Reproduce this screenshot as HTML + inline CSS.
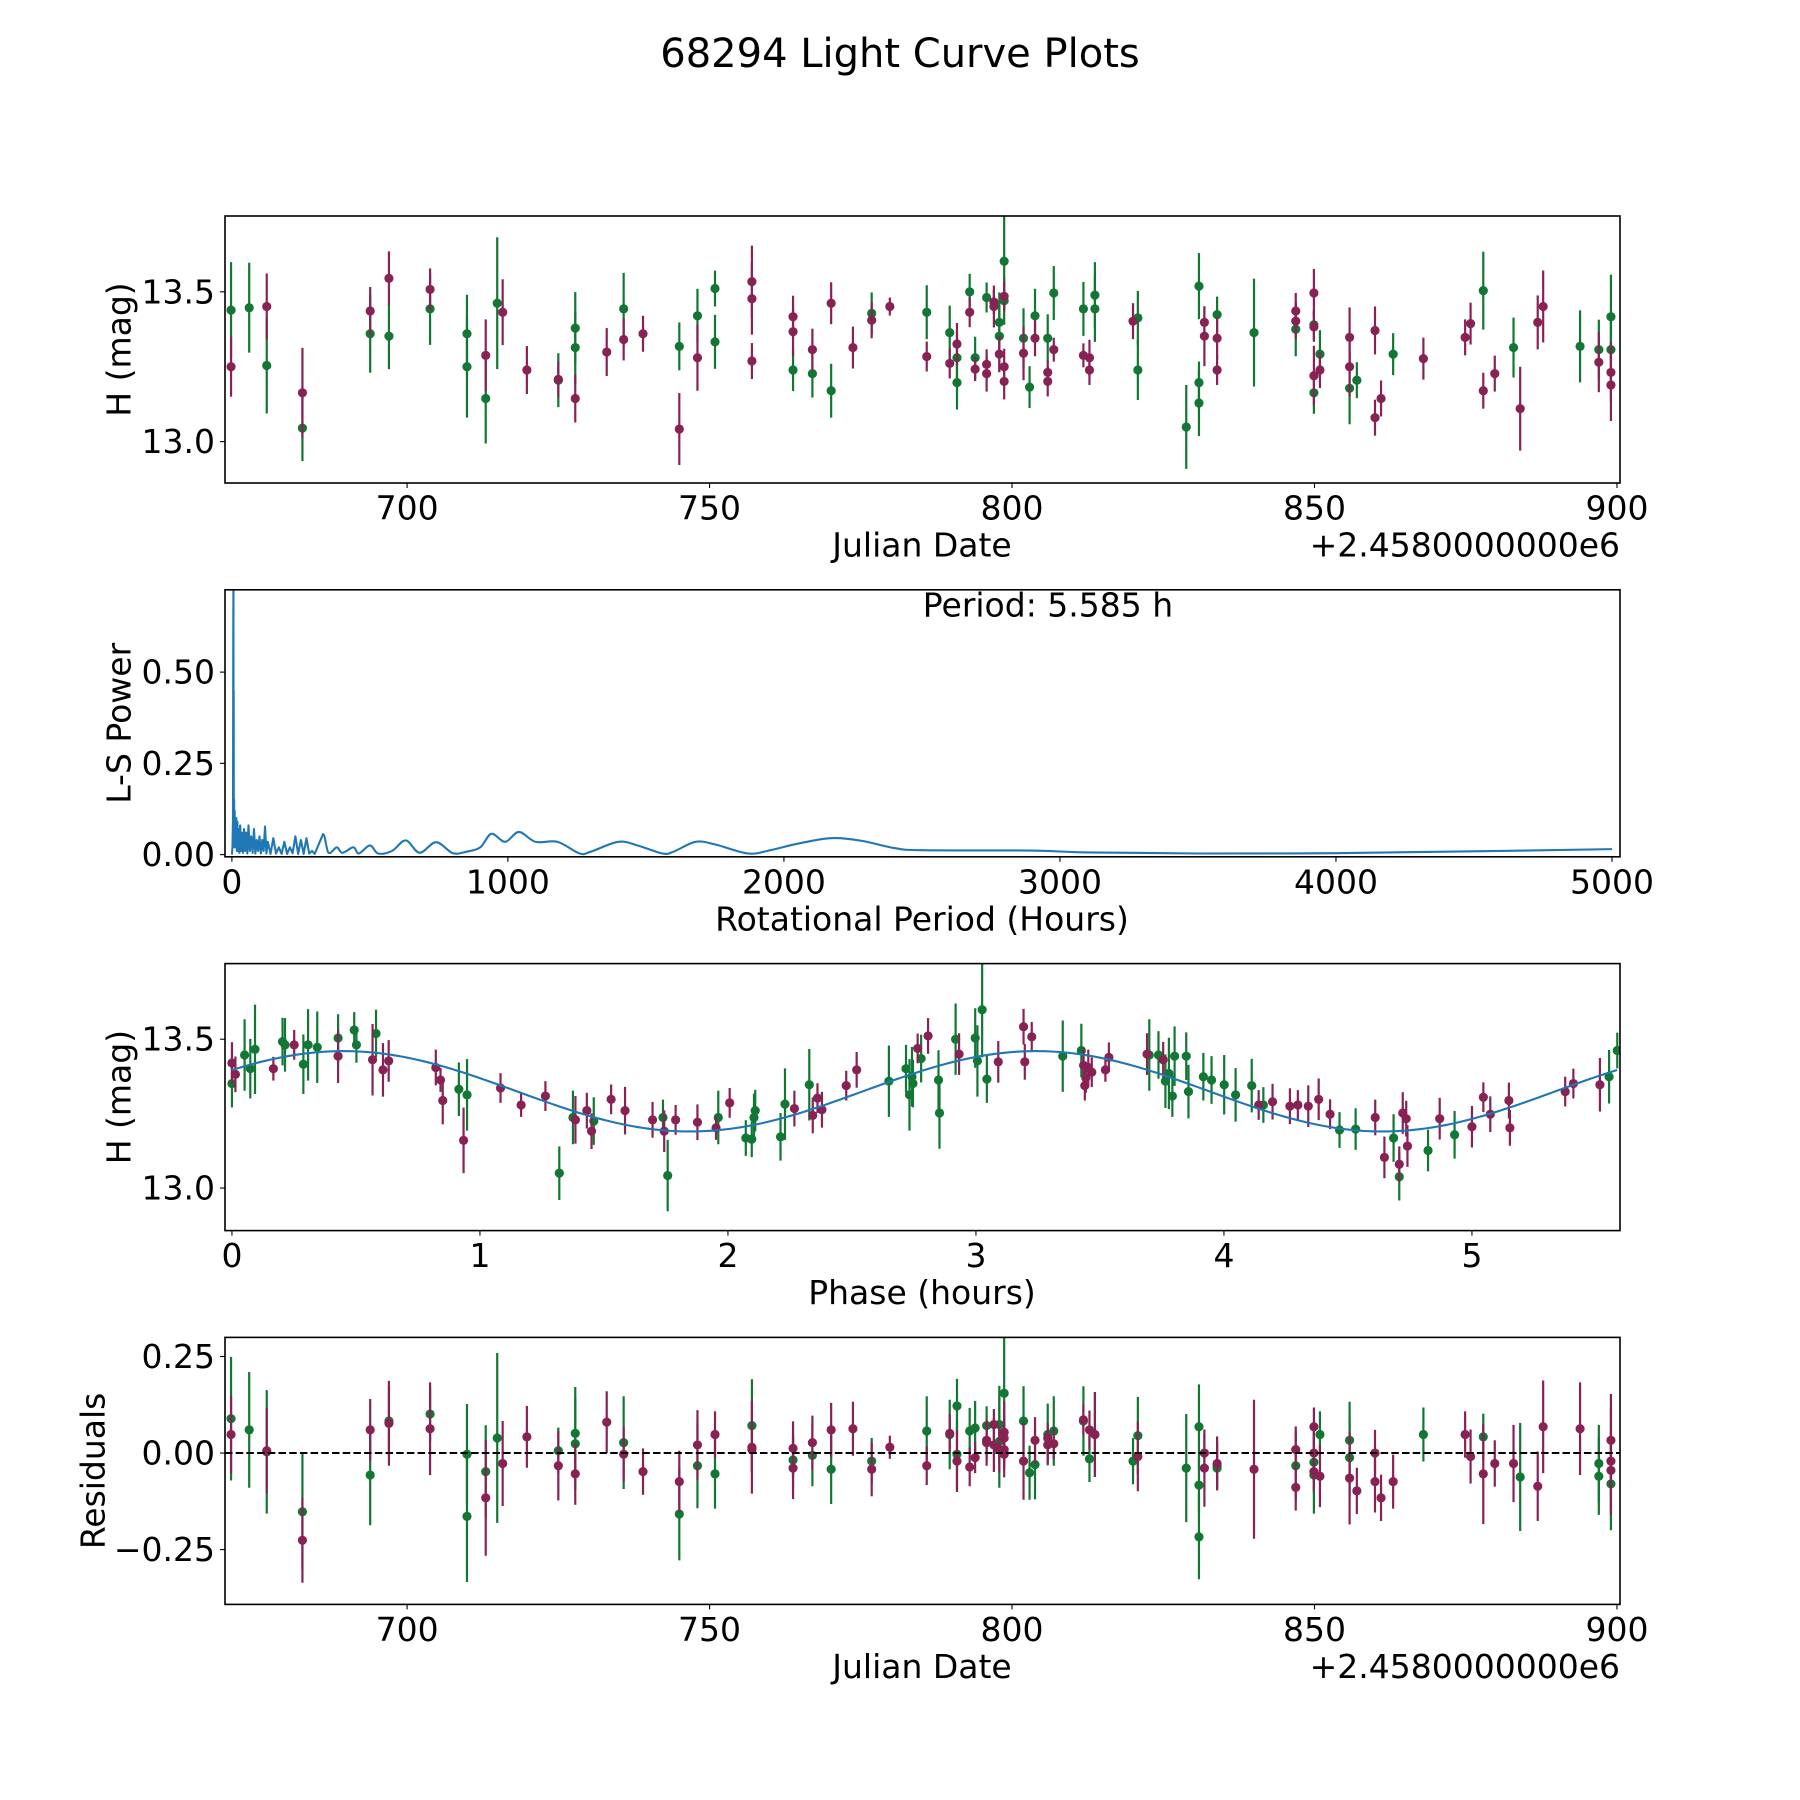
<!DOCTYPE html>
<html><head><meta charset="utf-8"><title>68294 Light Curve Plots</title>
<style>
html,body{margin:0;padding:0;background:#fff;}
svg{display:block;font-family:"DejaVu Sans","Liberation Sans",sans-serif;}
</style></head>
<body>
<svg id="fig" width="1800" height="1800" viewBox="0 0 1800 1800" xmlns="http://www.w3.org/2000/svg">
<rect x="0" y="0" width="1800" height="1800" fill="#fff"/>
<text x="900" y="54" font-size="40" text-anchor="middle" dominant-baseline="central">68294 Light Curve Plots</text>
</svg>
<script>
// ---------- data: light curve (top) ----------
const topDate = [670.9,670.9,673.9,676.8,676.8,682.7,682.7,693.9,693.9,697.0,697.0,703.8,703.8,709.9,709.9,713.0,713.0,714.9,715.8,719.8,
725.0,725.0,727.8,727.8,727.8,733.0,735.8,735.8,739.0,745.0,745.0,748.0,748.0,750.9,750.9,757.0,757.0,757.0,763.8,763.8,
763.8,767.0,767.0,770.1,770.1,773.7,776.8,776.8,779.8,785.9,785.9,789.7,789.7,790.9,790.9,790.9,793.0,793.0,793.9,793.9,
795.8,795.8,795.8,797.0,797.0,797.9,797.9,797.9,798.7,798.7,798.7,798.7,798.7,801.9,801.9,802.9,803.8,803.8,805.9,805.9,
805.9,806.9,806.9,811.8,811.8,812.8,812.8,813.7,813.7,820.0,820.8,820.8,828.8,830.9,830.9,830.9,831.8,831.8,833.9,833.9,
833.9,840.0,846.9,846.9,846.9,849.9,849.9,849.9,849.9,849.9,850.9,850.9,855.8,855.8,855.8,857.0,860.0,860.0,861.0,863.0,
868.0,874.9,875.8,877.9,877.9,879.8,882.9,884.0,886.9,887.8,893.9,897.0,897.0,899.0,899.0,899.0,899.0];
const topBand = "gpgpgpgpgpgpgggpggpp"+"pgggppgppgpgpggppppp"+"gpgpgppgpgpgppgggppg"+"gppppggpggppppgggppp"+"ggpgpppggpggggggppgpg".slice(0,20)+"pgppgpgppggpppggpppg"+"pppgppgpppggpggpp";
const topMag = [13.439,13.250,13.447,13.451,13.254,13.163,13.045,13.436,13.360,13.545,13.352,13.508,13.443,13.360,13.250,13.288,13.144,13.462,13.432,13.239,
13.208,13.205,13.379,13.314,13.144,13.299,13.443,13.341,13.360,13.318,13.042,13.420,13.280,13.511,13.333,13.534,13.477,13.269,13.417,13.367,
13.239,13.307,13.227,13.462,13.170,13.314,13.405,13.428,13.451,13.432,13.284,13.364,13.261,13.326,13.197,13.280,13.500,13.432,13.242,13.280,
13.481,13.258,13.227,13.466,13.451,13.398,13.352,13.292,13.602,13.470,13.485,13.250,13.201,13.295,13.345,13.182,13.420,13.345,13.231,13.201,
13.345,13.496,13.307,13.443,13.288,13.280,13.239,13.489,13.443,13.402,13.413,13.239,13.049,13.519,13.129,13.197,13.398,13.352,13.424,13.345,
13.239,13.364,13.436,13.402,13.375,13.496,13.390,13.383,13.220,13.163,13.292,13.239,13.348,13.250,13.178,13.205,13.371,13.080,13.144,13.292,
13.277,13.348,13.394,13.504,13.170,13.227,13.314,13.110,13.398,13.451,13.318,13.307,13.265,13.417,13.307,13.231,13.189];
const topErr = [.16,.10,.15,.11,.16,.15,.11,.08,.13,.09,.11,.07,.12,.13,.17,.12,.15,.22,.11,.08,
.06,.09,.12,.12,.08,.08,.12,.07,.06,.08,.12,.09,.11,.06,.09,.12,.12,.06,.07,.08,
.07,.07,.08,.07,.09,.07,.06,.07,.03,.09,.05,.09,.05,.07,.09,.08,.06,.05,.04,.07,
.05,.05,.06,.04,.07,.10,.12,.06,.16,.08,.05,.06,.06,.09,.10,.07,.09,.06,.04,.05,
.08,.09,.04,.09,.04,.06,.05,.11,.11,.06,.09,.10,.14,.11,.11,.07,.05,.10,.06,.07,
.05,.18,.06,.06,.09,.08,.05,.05,.10,.07,.08,.06,.10,.10,.12,.06,.08,.06,.06,.07,
.07,.06,.07,.13,.06,.06,.10,.14,.09,.12,.12,.10,.10,.14,.12,.10,.12];

// ---------- data: residuals (bottom) ----------
const resDate = topDate;
const resBand = "gpgpggppggpgpgggpgpp"+"gpggppgpppgpgpggpppp"+"gpgpgpgppgpgpggpgppg"+"gppppggpgppppgpggppp"+"ggpgpgppggpgggggppgp"+"gpppggppgppgggpppppp"+"gpppgppgpppggpgpp";
const resVal = [.089,.048,.060,.006,.003,-.152,-.226,.060,-.057,.083,.077,.101,.063,-.003,-.164,-.048,-.116,.039,-.027,.042,
.006,-.033,.051,.024,-.054,.080,.027,-.003,-.048,-.074,-.158,.021,-.033,.048,-.054,.071,.015,.009,.012,-.039,
-.018,.027,-.006,.060,-.042,.063,-.021,-.042,.015,.057,-.033,.048,.051,.122,-.003,-.021,.057,-.036,-.012,.065,
.071,.033,.027,.074,.021,.074,.030,.009,.155,.054,.009,-.003,.039,.083,-.021,-.051,-.030,.033,.039,.021,
.048,.057,.024,.083,.086,-.015,.060,.048,.048,-.021,-.009,.045,-.039,-.217,.068,-.083,0,-.039,-.033,-.027,
-.039,-.042,-.089,.009,-.033,-.024,.068,-.048,-.057,0,-.060,.048,-.012,.033,-.065,-.098,-.074,0,-.116,-.074,
.048,.048,-.009,-.054,.042,-.027,-.027,-.062,-.086,.068,.063,-.027,-.060,-.021,-.080,-.045,.033];
const resErr = topErr;

// ---------- data: phased light curve ----------
const phHour = [0,0,.014,.051,.074,.093,.167,.204,.214,.251,.288,.307,.344,.428,.428,.493,.502,.567,.581,.609,
.632,.822,.841,.850,.915,.934,.948,1.083,1.166,1.264,1.320,1.375,1.385,1.431,1.450,1.459,1.529,1.585,1.696,1.738,
1.757,1.743,1.789,1.877,1.952,1.961,2.007,2.072,2.096,2.105,2.110,2.212,2.230,2.268,2.328,2.342,2.361,2.379,2.477,2.519,
2.649,2.718,2.732,2.742,2.746,2.765,2.779,2.807,2.849,2.853,2.918,2.932,2.997,3.006,3.025,3.044,3.090,3.192,3.197,3.225,
3.350,3.425,3.434,3.439,3.443,3.453,3.467,3.522,3.536,3.690,3.699,3.736,3.755,3.764,3.778,3.792,3.801,3.848,3.857,3.917,
3.950,4.001,4.047,4.112,4.140,4.159,4.196,4.266,4.298,4.340,4.382,4.428,4.466,4.531,4.610,4.647,4.684,4.707,4.721,4.707,
4.740,4.735,4.823,4.870,4.930,5.0,5.046,5.074,5.149,5.153,5.376,5.409,5.516,5.553,5.586];
const phMag = [13.420,13.351,13.382,13.447,13.401,13.466,13.401,13.492,13.481,13.481,13.416,13.481,13.473,13.504,13.443,13.531,13.481,13.431,13.519,13.397,
13.427,13.405,13.363,13.294,13.332,13.160,13.313,13.336,13.279,13.309,13.050,13.237,13.229,13.260,13.191,13.225,13.298,13.260,13.229,13.237,
13.042,13.191,13.229,13.221,13.202,13.237,13.286,13.168,13.164,13.237,13.260,13.172,13.282,13.267,13.347,13.244,13.302,13.263,13.344,13.397,
13.359,13.401,13.313,13.374,13.351,13.469,13.435,13.511,13.363,13.252,13.500,13.450,13.504,13.427,13.599,13.366,13.424,13.542,13.424,13.508,
13.443,13.462,13.412,13.344,13.370,13.405,13.389,13.397,13.439,13.450,13.447,13.447,13.431,13.359,13.385,13.309,13.443,13.443,13.324,13.374,
13.363,13.347,13.313,13.344,13.279,13.279,13.290,13.275,13.279,13.275,13.298,13.248,13.195,13.198,13.237,13.103,13.168,13.080,13.252,13.038,
13.141,13.233,13.126,13.233,13.179,13.206,13.305,13.248,13.294,13.202,13.324,13.351,13.347,13.374,13.462];
const phErr = [.07,.08,.06,.12,.10,.15,.04,.08,.09,.05,.10,.12,.12,.08,.09,.06,.06,.12,.08,.09,
.07,.06,.04,.08,.09,.11,.12,.05,.04,.05,.09,.09,.08,.06,.06,.08,.05,.08,.06,.06,
.12,.07,.05,.06,.04,.09,.05,.06,.06,.08,.07,.08,.12,.06,.12,.06,.05,.06,.05,.06,
.12,.08,.12,.10,.08,.05,.08,.06,.10,.12,.12,.07,.10,.12,.16,.08,.07,.06,.06,.05,
.12,.09,.06,.05,.05,.06,.05,.04,.05,.07,.12,.08,.06,.09,.12,.07,.10,.08,.09,.08,
.08,.10,.09,.09,.05,.06,.06,.06,.05,.07,.07,.05,.06,.07,.06,.07,.08,.06,.07,.08,
.07,.06,.07,.07,.08,.07,.05,.06,.06,.06,.05,.05,.09,.09,.06];
const phBand = "pgpgggpggpggggpggpgp"+"ppppgpgpppggpppgpppg"+"gppppgpggggggpgppppp"+"gggggpgpgggpggggpppp"+"ggppppppppggpggggggg"+"ggggpgppppppggppgppg"+"ppgpgppppppppggp".slice(0,15);
// fit model: H = mean + amp*cos(2*pi*harmonic*(t - peak)/period)
const fitMean = [13.325];
const fitAmp = [0.135];
const fitPeak = [0.45];
const fitPeriod = [5.585];
const fitHarmonic = [2];

// ---------- data: periodogram ----------
const lsPeriod = [0,2,4,5,5.585,6,6.5,7,8,9,
10,11,12,14,16,18,20,22,24,27,
30,33,36,40,44,48,52,56,60,65,
70,75,80,85,90,95,100,105,110,115,
120,125,130,140,150,160,170,180,190,200,
210,220,230,240,250,260,270,280,290,300,
330,350,380,400,440,460,500,530,580,630,
680,740,800,850,900,940,990,1040,1100,1180,
1260,1300,1400,1470,1560,1600,1680,1750,1870,1950,
2050,2170,2280,2400,2500,2900,3100,3500,4000,4500,5000];
const lsPower = [0,0.02,0.1,0.6,0.76,0.2,0.45,0.05,0.15,0.02,
0.12,0.03,0.1,0.02,0.1,0.01,0.09,0.01,0.07,0.005,
0.08,0.01,0.06,0.005,0.07,0.01,0.06,0.003,0.08,0.01,
0.05,0.005,0.07,0.003,0.04,0.01,0.05,0.003,0.04,0.01,
0.077,0.003,0.035,0.002,0.045,0.003,0.02,0.002,0.035,0.002,
0.02,0.004,0.05,0.002,0.04,0.002,0.045,0.003,0.01,0.002,
0.056,0.005,0.02,0.005,0.02,0.003,0.025,0.003,0.01,0.039,
0.005,0.034,0.004,0.008,0.02,0.057,0.035,0.062,0.035,0.035,
0.003,0.008,0.035,0.025,0.003,0.008,0.035,0.028,0.003,0.012,
0.03,0.045,0.038,0.018,0.012,0.011,0.006,0.003,0.004,0.009,0.015];

const jdTicks = [700,750,800,850,900];
const jdTickLabels = ["700","750","800","850","900"];
const magTicks = [13.0,13.5];
const magTickLabels = ["13.0","13.5"];
const lsXTicks = [0,1000,2000,3000,4000,5000];
const lsXTickLabels = ["0","1000","2000","3000","4000","5000"];
const lsYTicks = [0,0.25,0.5];
const lsYTickLabels = ["0.00","0.25","0.50"];
const phXTicks = [0,1,2,3,4,5];
const phXTickLabels = ["0","1","2","3","4","5"];
const resTicks = [-0.25,0,0.25];
const resTickLabels = ["\u22120.25","0.00","0.25"];

// ---------- rendering ----------
const NS = "http://www.w3.org/2000/svg";
const svg = document.getElementById("fig");
const GREEN = "#117733", PURPLE = "#882255", BLUE = "#1f77b4";
const L = 225, R = 1620, AH = 267;
const TICK_OFF = 25, LABEL_OFF = 62;

function mk(tag, attrs, parent) {
  const e = document.createElementNS(NS, tag);
  for (const k in attrs) e.setAttribute(k, attrs[k]);
  (parent || svg).appendChild(e);
  return e;
}

function makePanel(id, top, xmin, xmax, ymin, ymax) {
  const p = {top: top, bottom: top + AH, xmin: xmin, xmax: xmax, ymin: ymin, ymax: ymax};
  p.sx = v => L + (v - xmin) / (xmax - xmin) * (R - L);
  p.sy = v => p.bottom - (v - ymin) / (ymax - ymin) * AH;
  const cp = mk("clipPath", {id: "clip-" + id});
  mk("rect", {x: L, y: top, width: R - L, height: AH}, cp);
  p.g = mk("g", {"clip-path": "url(#clip-" + id + ")"});
  
  
  return p;
}

function frame(p, id) {
  const r = mk("rect", {x: L, y: p.top, width: R - L, height: AH, fill: "none", stroke: "#000", "stroke-width": 1.6});
  
  
}

function xTicks(p, id, ticks, labels) {
  ticks.forEach((t, i) => {
    const x = p.sx(t);
    const tk = mk("line", {x1: x, x2: x, y1: p.bottom, y2: p.bottom + 5, stroke: "#000", "stroke-width": 1.1});
    
    
    const tx = mk("text", {x: x, y: p.bottom + TICK_OFF, "font-size": 33, "text-anchor": "middle", "dominant-baseline": "central"});
    tx.textContent = labels[i];
    
    
  });
}

function yTicks(p, id, ticks, labels) {
  ticks.forEach((t, i) => {
    const y = p.sy(t);
    const tk = mk("line", {x1: L - 5, x2: L, y1: y, y2: y, stroke: "#000", "stroke-width": 1.1});
    
    
    const tx = mk("text", {x: L - 10, y: y, "font-size": 33, "text-anchor": "end", "dominant-baseline": "central"});
    tx.textContent = labels[i];
    
    
  });
}

function label(text, x, y, rot, name, anchor) {
  const t = mk("text", {x: x, y: y, "font-size": 33, "text-anchor": anchor || "middle", "dominant-baseline": "central"});
  if (rot) t.setAttribute("transform", "rotate(-90 " + x + " " + y + ")");
  t.textContent = text;
  
  
  return t;
}

function errorPoints(p, id, xs, ys, errs, bands) {
  ["g", "p"].forEach(b => {
    for (let i = 0; i < xs.length; i++) {
      if (bands[i] !== b) continue;
      const c = b === "g" ? GREEN : PURPLE;
      const x = p.sx(xs[i]);
      const ln = mk("line", {x1: x, x2: x, y1: p.sy(ys[i] - errs[i]), y2: p.sy(ys[i] + errs[i]), stroke: c, "stroke-width": 2.2}, p.g);
      
      
    }
    for (let i = 0; i < xs.length; i++) {
      if (bands[i] !== b) continue;
      const c = b === "g" ? GREEN : PURPLE;
      const pt = mk("circle", {cx: p.sx(xs[i]), cy: p.sy(ys[i]), r: 4.6, fill: c}, p.g);
      
      
    }
  });
}

// Panel 1
const p1 = makePanel("light-curve", 216, 669.9, 900.5, 12.862, 13.753);
errorPoints(p1, "light-curve", topDate, topMag, topErr, topBand);
frame(p1, "light-curve");
xTicks(p1, "light-curve", jdTicks, jdTickLabels);
yTicks(p1, "light-curve", magTicks, magTickLabels);
label("Julian Date", 922, p1.bottom + LABEL_OFF, false, "light-curve-x-axis-title");
label("+2.4580000000e6", R, p1.bottom + LABEL_OFF, false, "light-curve-x-offset", "end");
label("H (mag)", 119, p1.top + AH / 2, true, "light-curve-y-axis-title");

// Panel 2: periodogram
const p2 = makePanel("periodogram", 589.8, -25, 5029, -0.006, 0.7255);
const px = lsPeriod.map(v => p2.sx(v)), py = lsPower.map(v => p2.sy(v));
let d = "M" + px[0].toFixed(2) + "," + py[0].toFixed(2);
for (let i = 1; i < px.length; i++) {
  if (lsPeriod[i] <= 330) {
    d += "L" + px[i].toFixed(2) + "," + py[i].toFixed(2);
  } else {
    const i0 = i - 2 >= 0 ? i - 2 : 0, i3 = i + 1 < px.length ? i + 1 : i;
    const c1x = px[i-1] + (px[i] - px[i0]) / 6, c1y = py[i-1] + (py[i] - py[i0]) / 6;
    const c2x = px[i] - (px[i3] - px[i-1]) / 6, c2y = py[i] - (py[i3] - py[i-1]) / 6;
    d += "C" + c1x.toFixed(2) + "," + c1y.toFixed(2) + " " + c2x.toFixed(2) + "," + c2y.toFixed(2) + " " + px[i].toFixed(2) + "," + py[i].toFixed(2);
  }
}
const lsLine = mk("path", {d: d, fill: "none", stroke: BLUE, "stroke-width": 2.1, "stroke-linejoin": "round"}, p2.g);


frame(p2, "periodogram");
xTicks(p2, "periodogram", lsXTicks, lsXTickLabels);
yTicks(p2, "periodogram", lsYTicks, lsYTickLabels);
label("Rotational Period (Hours)", 922, p2.bottom + LABEL_OFF, false, "periodogram-x-axis-title");
label("L-S Power", 119, p2.top + AH / 2, true, "periodogram-y-axis-title");
label("Period: 5.585 h", 1048, 605, false, "period-annotation");

// Panel 3: phased
const p3 = makePanel("phased", 963.6, -0.028, 5.597, 12.857, 13.754);
let fd = "";
const nSeg = 300;
for (let k = 0; k <= nSeg; k++) {
  const t = fitPeriod[0] * k / nSeg;
  const h = fitMean[0] + fitAmp[0] * Math.cos(2 * Math.PI * fitHarmonic[0] * (t - fitPeak[0]) / fitPeriod[0]);
  fd += (k ? "L" : "M") + p3.sx(t).toFixed(2) + "," + p3.sy(h).toFixed(2);
}
errorPoints(p3, "phased", phHour, phMag, phErr, phBand);
const fitLine = mk("path", {d: fd, fill: "none", stroke: BLUE, "stroke-width": 2.1}, p3.g);


frame(p3, "phased");
xTicks(p3, "phased", phXTicks, phXTickLabels);
yTicks(p3, "phased", magTicks, magTickLabels);
label("Phase (hours)", 922, p3.bottom + LABEL_OFF, false, "phased-x-axis-title");
label("H (mag)", 119, p3.top + AH / 2, true, "phased-y-axis-title");

// Panel 4: residuals
const p4 = makePanel("residuals", 1337.4, 669.9, 900.5, -0.392, 0.2995);
errorPoints(p4, "residuals", resDate, resVal, resErr, resBand);
const zl = mk("line", {x1: L, x2: R, y1: p4.sy(0), y2: p4.sy(0), stroke: "#000", "stroke-width": 2, "stroke-dasharray": "7.5,3.2"}, p4.g);


frame(p4, "residuals");
xTicks(p4, "residuals", jdTicks, jdTickLabels);
yTicks(p4, "residuals", resTicks, resTickLabels);
label("Julian Date", 922, p4.bottom + LABEL_OFF, false, "residuals-x-axis-title");
label("+2.4580000000e6", R, p4.bottom + LABEL_OFF, false, "residuals-x-offset", "end");
label("Residuals", 93, p4.top + AH / 2, true, "residuals-y-axis-title");
</script>
</body></html>
